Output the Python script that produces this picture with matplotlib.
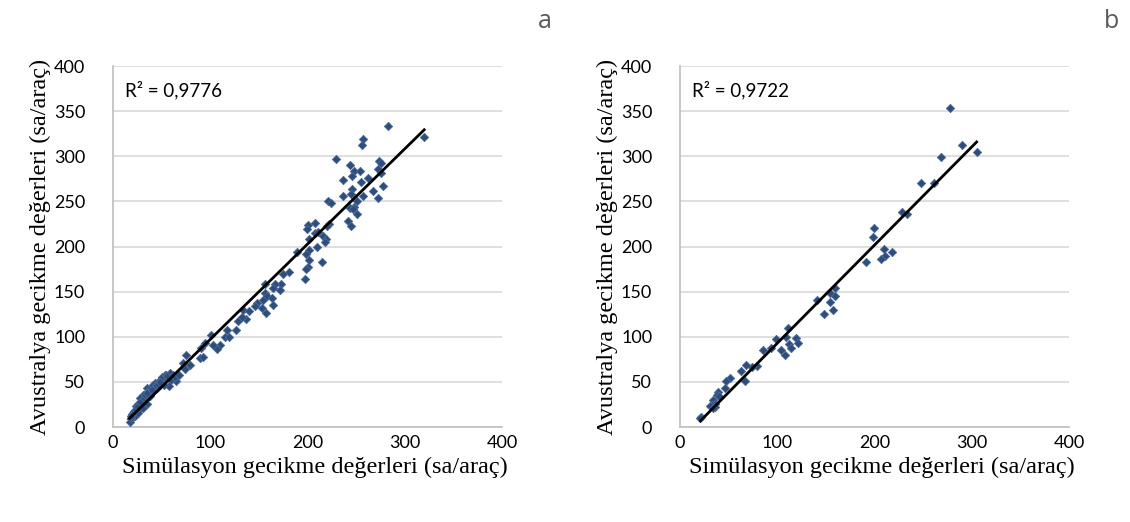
import numpy as np
import matplotlib.pyplot as plt

# Panel a : simulation vs Australian method delays (sa/araç)
sim_a = [283, 320, 257, 256, 229, 244, 274, 276, 248, 254, 246, 272, 276, 262, 237, 255,
         278, 246, 245, 267, 237, 257, 272, 251, 221, 224, 244, 248, 247, 251, 242, 245,
         222, 220, 208, 201, 199, 208, 211, 216, 219, 218, 202, 210, 202, 198, 215, 202,
         200, 198, 197, 189, 181, 175, 173, 167, 156, 165, 172, 156, 158, 163, 154, 148,
         165, 146, 153, 157, 134, 140, 137, 129, 133, 126, 117, 115, 119, 101, 110, 107,
         103, 95, 91, 89, 93, 75, 72, 79, 74, 65, 60, 59, 53, 52, 58, 47, 43, 48, 40, 35,
         42, 37, 31, 33, 28, 29, 24, 27, 21, 23, 19, 17, 38, 45, 52, 35, 31, 26,
         36, 39, 41, 44, 46, 50, 55, 33, 30, 26, 25, 22, 20, 18, 19, 28, 35, 40, 48, 56,
         62, 64, 68]
avus_a = [333, 321, 319, 313, 297, 290, 295, 292, 284, 284, 278, 286, 281, 276, 274, 272,
          267, 264, 258, 261, 256, 256, 254, 250, 250, 248, 243, 244, 241, 236, 228, 223,
          225, 223, 226, 224, 219, 215, 216, 212, 208, 205, 208, 200, 196, 192, 183, 185,
          177, 175, 164, 194, 172, 170, 159, 159, 158, 154, 152, 148, 145, 143, 141, 137,
          135, 134, 132, 126, 130, 129, 120, 118, 122, 108, 108, 100, 100, 102, 91, 86,
          91, 93, 87, 76, 78, 80, 71, 69, 64, 51, 52, 60, 58, 54, 45, 51, 49, 46, 45, 43,
          41, 38, 36, 30, 32, 27, 23, 19, 15, 12, 9, 6, 34, 43, 47, 25, 21, 15,
          40, 43, 47, 46, 48, 55, 58, 35, 30, 25, 22, 18, 14, 10, 12, 28, 38, 41, 50, 57,
          58, 55, 58]
r2_a = "R² = 0,9776"

# Panel b
sim_b = [278, 290, 305, 268, 248, 261, 228, 233, 199, 198, 210, 218, 211, 207, 191,
         159, 154, 159, 141, 154, 157, 148, 111, 109, 99, 119, 112, 121, 114, 104, 108,
         94, 85, 79, 74, 68, 63, 67, 51, 47, 46, 39, 38, 40, 34, 36, 33, 31, 36, 34, 22, 21]
avus_b = [353, 313, 305, 299, 270, 270, 238, 236, 220, 211, 197, 194, 190, 186, 183,
          154, 149, 145, 141, 138, 130, 125, 110, 100, 98, 99, 92, 93, 87, 85, 80,
          88, 85, 68, 67, 69, 62, 51, 54, 51, 43, 39, 35, 34, 30, 26, 24, 23, 22, 21, 11, 10]
r2_b = "R² = 0,9722"

x_label = "Simülasyon gecikme değerleri (sa/araç)"
y_label = "Avustralya gecikme değerleri (sa/araç)"
ticks = [0, 100, 200, 300, 400]
yticks = [0, 50, 100, 150, 200, 250, 300, 350, 400]

fig = plt.figure(figsize=(11.3, 5.22), dpi=100)

panels = [
    (sim_a, avus_a, r2_a, "a", 113),
    (sim_b, avus_b, r2_b, "b", 680),
]

for sim, avus, r2, letter, left_px in panels:
    ax = fig.add_axes([left_px / 1130, 1 - 427 / 522, 389 / 1130, 361 / 522])
    x = np.array(sim, dtype=float)
    y = np.array(avus, dtype=float)

    ax.scatter(x, y, marker="D", s=18, facecolor="#2E4D7B", edgecolor="#4A6B9A",
               linewidth=0.6, zorder=3)

    # Excel-style linear trendline from min x to max x
    slope, intercept = np.polyfit(x, y, 1)
    xs = np.array([x.min(), x.max()])
    ax.plot(xs, slope * xs + intercept, color="black", linewidth=2, zorder=4)

    ax.set_xlim(0, 400)
    ax.set_ylim(0, 400)
    ax.set_xticks(ticks)
    ax.set_yticks(yticks)
    ax.grid(axis="y", color="#D9D9D9", linewidth=1.2)
    ax.set_axisbelow(True)
    for s in ["top", "right"]:
        ax.spines[s].set_visible(False)
    for s in ["left", "bottom"]:
        ax.spines[s].set_color("#BFBFBF")
        ax.spines[s].set_linewidth(1.2)
    ax.tick_params(length=0, labelsize=13, colors="#000000")
    ax.tick_params(axis="y", pad=20)
    ax.tick_params(axis="x", pad=6)
    for lab in ax.get_xticklabels() + ax.get_yticklabels():
        lab.set_fontfamily("Lato")

    ax.set_xlabel(x_label, fontsize=17.5, family="Liberation Serif", labelpad=4)
    ax.xaxis.label.set_x(0.52)
    ax.set_ylabel(y_label, fontsize=17.5, family="Liberation Serif", labelpad=2)

    ax.text(0.03, 0.96, r2, transform=ax.transAxes, fontsize=13.5, family="Lato",
            va="top", ha="left")

    fig.text((left_px + 432) / 1130, 1 - 22 / 522, letter, fontsize=18,
             family="Open Sans", color="#595959", ha="center", va="center")

fig.savefig("out.png", dpi=100)
